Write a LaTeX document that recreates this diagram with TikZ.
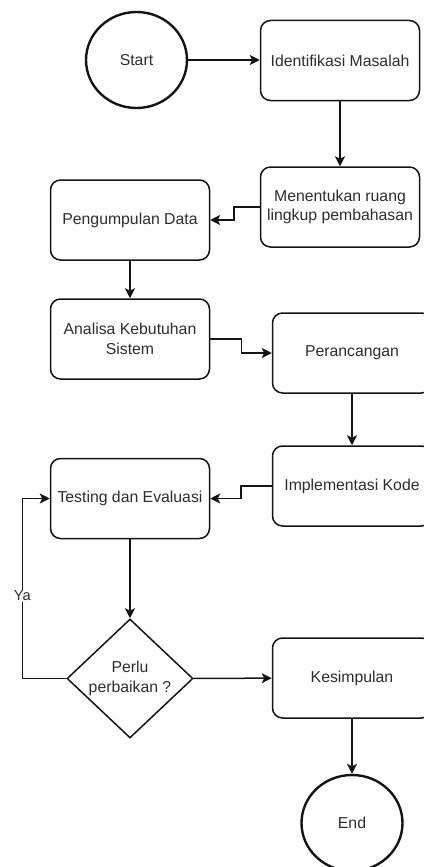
\documentclass[tikz,border=0pt]{standalone}
\usepackage{fontspec}
\setmainfont{Liberation Sans}
\usetikzlibrary{shapes.geometric,arrows.meta}

\definecolor{teks}{RGB}{45,45,45}
\definecolor{garis}{RGB}{20,20,20}

\begin{document}
\begin{tikzpicture}[x=1pt,y=-1pt,
    every node/.style={text=teks, font=\fontsize{15.8}{19.5}\selectfont, align=center},
    proses/.style={draw=garis, line width=1.5pt, rounded corners=10pt, minimum width=159pt, minimum height=80pt, inner sep=0pt},
    terminal/.style={ellipse, draw=garis, line width=2.4pt, minimum width=101pt, minimum height=96pt, inner sep=0pt},
    keputusan/.style={diamond, draw=garis, line width=1.5pt, minimum width=126pt, minimum height=119pt, inner sep=0pt},
    panah/.style={draw=garis, line width=1.5pt, -{Stealth[length=10pt,width=10pt,inset=2.5pt]}}]
            \useasboundingbox (0,0) rectangle (423,867);

            \node[terminal] (start) at (136.5,60) {Start};
            \node[proses] (identifikasi) at (340,60.5) {Identifikasi Masalah};
            \node[proses] (ruang) at (340,207) {Menentukan ruang\\lingkup pembahasan};
            \node[proses] (pengumpulan) at (130,220) {Pengumpulan Data};
            \node[proses] (analisa) at (130,339) {Analisa Kebutuhan\\Sistem};
            \node[proses] (perancangan) at (352,353) {Perancangan};
            \node[proses] (implementasi) at (352,486) {Implementasi Kode};
            \node[proses] (testing) at (130,498.5) {Testing dan Evaluasi};
            \node[keputusan] (perbaikan) at (130,678.5) {Perlu\\perbaikan ?};
            \node[proses] (kesimpulan) at (352,678) {Kesimpulan};
            \node[terminal] (end) at (352,823) {End};

            \draw[panah] (start.east) -- (start.east -| identifikasi.west);
            \draw[panah] (identifikasi) -- (ruang);
            \draw[panah] (ruang.west) -- ++(-26,0) |- (pengumpulan.east);
            \draw[panah] (pengumpulan) -- (analisa);
            \draw[panah] (analisa.east) -- ++(31,0) |- (perancangan.west);
            \draw[panah] (perancangan) -- (implementasi);
            \draw[panah] (implementasi.west) -- ++(-31,0) |- (testing.east);
            \draw[panah] (testing) -- (perbaikan);
            \draw[panah] (perbaikan.west) -- ++(-44,0) |- node[pos=0.23, fill=white, inner sep=1pt, font=\fontsize{14.6}{17}\selectfont] (ya) {Ya} (testing.west);
            \draw[panah] (perbaikan) -- (kesimpulan);
            \draw[panah] (kesimpulan) -- (end);
        \end{tikzpicture}
\end{document}
